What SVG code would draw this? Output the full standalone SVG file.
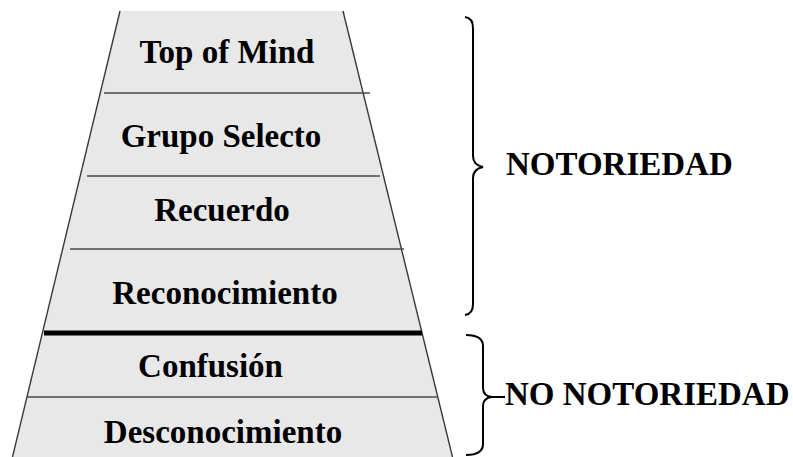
<svg xmlns="http://www.w3.org/2000/svg" width="793" height="457" viewBox="0 0 793 457">
<style>
.lbl{font-family:"Liberation Serif","Times New Roman",serif;font-weight:bold;font-size:33px;fill:#000;text-anchor:middle}
.side{font-family:"Liberation Serif","Times New Roman",serif;font-weight:bold;font-size:33px;fill:#000}
.band{fill:#e8e8e8;stroke:none}
.sep{stroke:#4a4a4a;stroke-width:1.3;fill:none}
.edge{stroke:#3a3a3a;stroke-width:1.4;fill:none}
.brace{stroke:#000;stroke-width:2;fill:none}
</style>
<rect width="793" height="457" fill="#fff"/>
<g id="tier-top-of-mind">
<polygon class="band" points="120,11 343,11 363.1,93 100.2,93"/>
<text class="lbl" x="227" y="63">Top of Mind</text>
</g>
<g id="tier-grupo-selecto">
<polygon class="band" points="100.2,93 363.1,93 383.5,176 80.2,176"/>
<text class="lbl" x="221" y="147">Grupo Selecto</text>
</g>
<g id="tier-recuerdo">
<polygon class="band" points="80.2,176 383.5,176 401.4,249 62.6,249"/>
<text class="lbl" x="222" y="221">Recuerdo</text>
</g>
<g id="tier-reconocimiento">
<polygon class="band" points="62.6,249 401.4,249 422.1,333 42.4,333"/>
<text class="lbl" x="225" y="304">Reconocimiento</text>
</g>
<g id="tier-confusion">
<polygon class="band" points="42.4,333 422.1,333 437.8,397 27,397"/>
<text class="lbl" x="210.5" y="377">Confusión</text>
</g>
<g id="tier-desconocimiento">
<polygon class="band" points="27,397 437.8,397 452.5,457 12.5,457"/>
<text class="lbl" x="223" y="443">Desconocimiento</text>
</g>
<g id="connectors">
<line class="edge" x1="120" y1="11" x2="12.5" y2="457"/>
<line class="edge" x1="343" y1="11" x2="452.5" y2="457"/>
<line class="sep" x1="104" y1="93" x2="370" y2="93"/>
<line class="sep" x1="87" y1="176" x2="380" y2="176"/>
<line class="sep" x1="70" y1="249" x2="404" y2="249"/>
<line x1="44" y1="333" x2="422" y2="333" stroke="#000" stroke-width="5"/>
<line class="sep" x1="27" y1="397" x2="438" y2="397"/>
</g>
<g id="group-notoriedad">
<path class="brace" d="M465,17 Q473,18 473,28 L473,156 Q473,165 483,167 Q473,169 473,178 L473,304 Q473,314 465,315"/>
<text class="side" x="506" y="175">NOTORIEDAD</text>
</g>
<g id="group-no-notoriedad">
<path class="brace" d="M466,335 Q483,335 483,346 L483,388 Q483,396 492,397 L505,397 M492,397 Q483,398 483,406 L483,444 Q483,455 466,455"/>
<text class="side" x="505" y="405">NO NOTORIEDAD</text>
</g>
</svg>
